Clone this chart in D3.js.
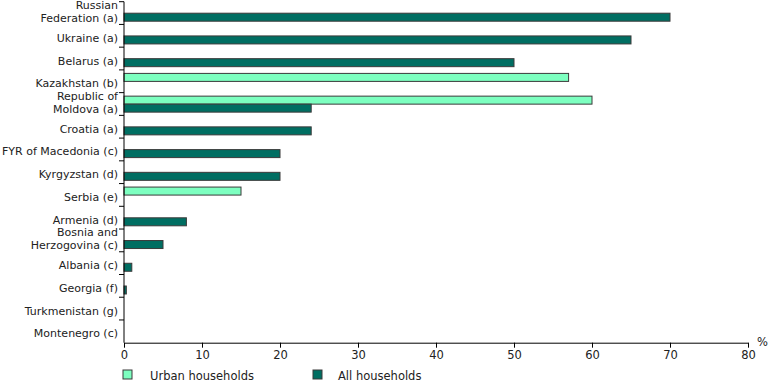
<!DOCTYPE html>
<html><head><meta charset="utf-8">
<script src="https://cdn.jsdelivr.net/npm/d3@7"></script>
<style>
html,body{margin:0;padding:0;background:#fff;}
text{font-family:"DejaVu Sans",Verdana,sans-serif;fill:#222;}
</style></head>
<body>
<svg id="chart" width="768" height="382"></svg>
<script>
const categories = ["Russian Federation (a)","Ukraine (a)","Belarus (a)","Kazakhstan (b)","Republic of Moldova (a)","Croatia (a)","FYR of Macedonia (c)","Kyrgyzstan (d)","Serbia (e)","Armenia (d)","Bosnia and Herzogovina (c)","Albania (c)","Georgia (f)","Turkmenistan (g)","Montenegro (c)"];
const labelLines = [["Russian","Federation (a)"],["Ukraine (a)"],["Belarus (a)"],["Kazakhstan (b)"],["Republic of","Moldova (a)"],["Croatia (a)"],["FYR of Macedonia (c)"],["Kyrgyzstan (d)"],["Serbia (e)"],["Armenia (d)"],["Bosnia and","Herzogovina (c)"],["Albania (c)"],["Georgia (f)"],["Turkmenistan (g)"],["Montenegro (c)"]];
const urbanHouseholds = [null,null,null,57,60,null,null,null,15,null,null,null,null,null,null];
const allHouseholds = [70,65,50,null,24,24,20,20,null,8,5,1,0.3,null,null];
const seriesNames = ["Urban households","All households"];
const seriesColors = ["#7dffc0","#006e62"];
const xTicks = [0,10,20,30,40,50,60,70,80];

const FS = "11px";
const svg = d3.select("#chart");
const mLeft = 124, mRight = 748, mTop = 1.7, mBottom = 342.7;
const x = d3.scaleLinear().domain([0,80]).range([mLeft,mRight]);
const y = d3.scaleBand().domain(categories).range([mTop,mBottom]).padding(0);
const sub = d3.scaleBand().domain(seriesNames).range([3.5,19.5]).padding(0);

const rows = categories.map((c,i)=>({c, vals:[urbanHouseholds[i], allHouseholds[i]]}));
const g = svg.append("g");
rows.forEach(r=>{
  r.vals.forEach((v,j)=>{
    if(v==null) return;
    g.append("rect")
      .attr("x", x(0))
      .attr("y", y(r.c)+sub(seriesNames[j]))
      .attr("width", x(v)-x(0))
      .attr("height", sub.bandwidth())
      .attr("fill", seriesColors[j])
      .attr("stroke", "#3a3a3a")
      .attr("stroke-width", 1);
  });
});

// y axis
svg.append("line").attr("x1",mLeft).attr("x2",mLeft).attr("y1",mTop).attr("y2",mBottom).attr("stroke","#000");
categories.forEach(c=>{
  const b = y(c);
  svg.append("line").attr("x1",mLeft-5).attr("x2",mLeft).attr("y1",b).attr("y2",b).attr("stroke","#000");
});
categories.forEach((c,i)=>{
  const lines = labelLines[i];
  const cy = y(c)+y.bandwidth()/2;
  const t = svg.append("text").attr("text-anchor","end").attr("font-size",FS);
  if(lines.length===1){
    t.append("tspan").attr("x",118).attr("y",cy+6).text(lines[0]);
  } else {
    t.append("tspan").attr("x",118).attr("y",cy-4).text(lines[0]);
    t.append("tspan").attr("x",118).attr("y",cy+8.5).text(lines[1]);
  }
});

// x axis
const xAxis = d3.axisBottom(x).tickValues(xTicks).tickSize(5).tickSizeOuter(0).tickPadding(3);
const ax = svg.append("g").attr("transform",`translate(0,${mBottom})`).call(xAxis);
ax.select(".domain").attr("stroke","#000");
ax.selectAll(".tick line").attr("stroke","#000");
ax.selectAll(".tick text").attr("font-size","11.5px").attr("fill","#222").attr("font-family","DejaVu Sans, Verdana, sans-serif");
svg.append("text").attr("x",757).attr("y",346).attr("font-size","11.5px").text("%");

// legend
const legX = [123, 313], legTextX = [150, 338];
seriesNames.forEach((s,j)=>{
  svg.append("rect").attr("x",legX[j]).attr("y",370).attr("width",9).attr("height",9)
    .attr("fill",seriesColors[j]).attr("stroke","#3a3a3a");
  svg.append("text").attr("x",legTextX[j]).attr("y",380).attr("font-size","11.5px").text(s);
});
</script>
</body></html>
